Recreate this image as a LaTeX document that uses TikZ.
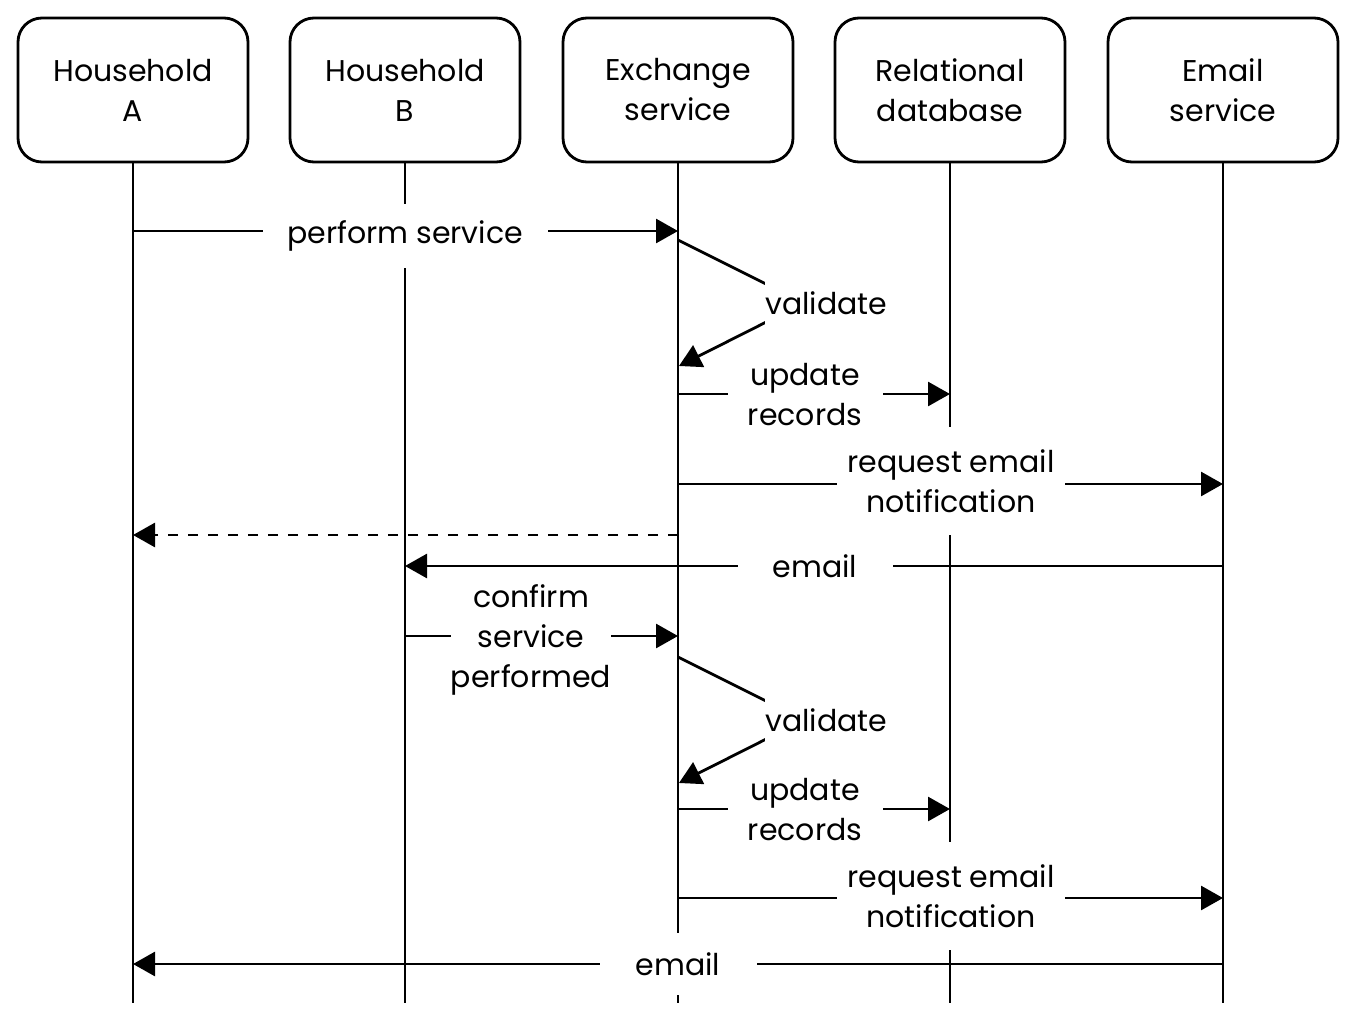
\documentclass[tikz,border=0pt]{standalone}
\usepackage{fontspec}
\setmainfont{Poppins}
\usetikzlibrary{arrows.meta}
\tikzset{
  px/.style={x=0.5pt,y=-0.5pt},
  actor/.style={draw,line width=1.4pt,rounded corners=12pt,minimum width=115pt,minimum height=72pt,align=center,inner sep=0pt,font=\fs},
  lifeline/.style={line width=1.4pt},
  msg/.style={line width=1.4pt,-{Triangle[length=11pt,width=12pt]}},
  reply/.style={msg,dash pattern=on 5pt off 5pt},
  lbl/.style={fill=white,align=center,inner xsep=0pt,inner ysep=6pt,font=\fs},
}
\newcommand{\fs}{\fontsize{15pt}{20pt}\selectfont}
\begin{document}
\begin{tikzpicture}[px]
\useasboundingbox (0,0) rectangle (1360,1022);
% actors
\node[actor] (A) at (133,90) {Household\\A};
\node[actor] (B) at (405,90) {Household\\B};
\node[actor] (X) at (678,90) {Exchange\\service};
\node[actor] (D) at (950,90) {Relational\\database};
\node[actor] (E) at (1223,90) {Email\\service};
% lifeline ends
\coordinate (Aend) at (133,1003);
\coordinate (Bend) at (405,1003);
\coordinate (Xend) at (678,1003);
\coordinate (Dend) at (950,1003);
\coordinate (Eend) at (1223,1003);
\draw[lifeline] (A.south) -- (Aend);
\draw[lifeline] (B.south) -- (Bend);
\draw[lifeline] (X.south) -- (Xend);
\draw[lifeline] (D.south) -- (Dend);
\draw[lifeline] (E.south) -- (Eend);
% message points
\coordinate (a1) at (133,231); \coordinate (x1) at (678,231);
\coordinate (x2) at (678,240); \coordinate (v1) at (804,303); \coordinate (x3) at (679,366);
\coordinate (x4) at (678,394); \coordinate (d4) at (950,394);
\coordinate (x5) at (678,484); \coordinate (e5) at (1223,484);
\coordinate (x6) at (678,535); \coordinate (a6) at (133,535);
\coordinate (e7) at (1223,566); \coordinate (b7) at (405,566);
\coordinate (b8) at (405,636); \coordinate (x8) at (678,636);
\coordinate (x9) at (678,657); \coordinate (v2) at (804,720); \coordinate (x10) at (679,783);
\coordinate (x11) at (678,809); \coordinate (d11) at (950,809);
\coordinate (x12) at (678,898); \coordinate (e12) at (1223,898);
\coordinate (e13) at (1223,964); \coordinate (a13) at (133,964);
% messages
\draw[msg] (a1) -- (x1);
\draw[msg] (x2) -- (v1) -- (x3);
\draw[msg] (x4) -- (d4);
\draw[msg] (x5) -- (e5);
\draw[reply] (x6) -- (a6);
\draw[msg] (e7) -- (b7);
\draw[msg] (b8) -- (x8);
\draw[msg] (x9) -- (v2) -- (x10);
\draw[msg] (x11) -- (d11);
\draw[msg] (x12) -- (e12);
\draw[msg] (e13) -- (a13);
% labels
\node[lbl,minimum width=142.5pt,minimum height=32pt] (l1) at (405,236) {perform service};
\node[lbl,anchor=west,minimum height=33pt] (l2) at (765,303) {validate};
\node[lbl,minimum width=77.5pt] (l3) at (805,395) {update\\records};
\node[lbl,minimum width=114pt,inner ysep=11pt] (l4) at (951,481) {request email\\notification};
\node[lbl,minimum width=77.5pt,minimum height=31pt] (l5) at (815,566) {email};
\node[lbl,minimum width=77pt] (l6) at (531,640) {confirm\\service\\performed};
\node[lbl,anchor=west,minimum height=33pt] (l7) at (765,720) {validate};
\node[lbl,minimum width=77.5pt] (l8) at (805,810) {update\\records};
\node[lbl,minimum width=114pt,inner ysep=11pt] (l9) at (951,896) {request email\\notification};
\node[lbl,minimum width=78.5pt,minimum height=31pt] (l10) at (678,964) {email};
\end{tikzpicture}
\end{document}
